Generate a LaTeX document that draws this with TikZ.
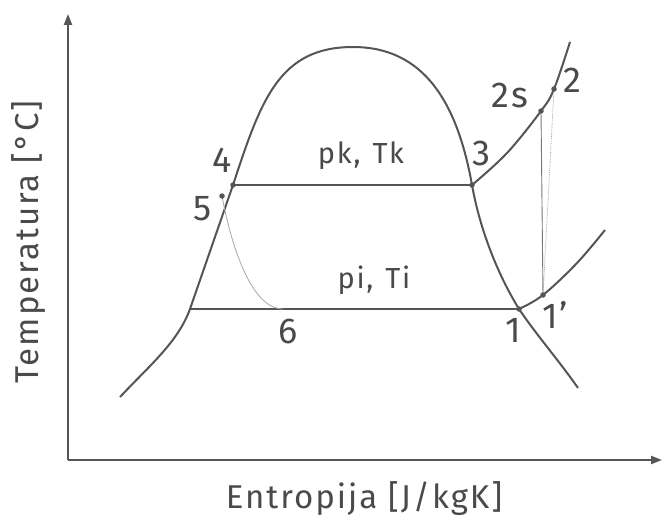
\documentclass[tikz,border=0pt]{standalone}
\usepackage{fontspec}
\setmainfont[LetterSpace=6]{Fira Sans}
\usetikzlibrary{arrows.meta}
\definecolor{ln}{HTML}{555555}
\definecolor{tx}{HTML}{4A4A4A}
\begin{document}
\begin{tikzpicture}[x=1pt,y=-1pt,
  curve/.style={draw=ln,line width=2pt,line join=round},
  thinline/.style={draw=ln!80,line width=0.9pt},
  lightline/.style={draw=gray!70,line width=0.8pt},
  dot/.style={circle,fill=ln,inner sep=0pt,minimum size=5.5pt},
  lbl/.style={text=tx,font=\fontsize{36}{40}\selectfont,inner sep=0pt,anchor=base},
  txt/.style={text=tx,font=\fontsize{29}{34}\selectfont,inner sep=0pt,anchor=base},
  axlbl/.style={text=tx,font=\fontsize{33}{38}\selectfont,inner sep=0pt,anchor=base},
  axis/.style={draw=ln,line width=2pt,-{Triangle[length=11pt,width=8pt]}}]
\useasboundingbox (0,0) rectangle (662,519);
% axes
\coordinate (O) at (68,460);
\coordinate (Ytop) at (68,14);
\coordinate (Xend) at (662,460);
\draw[axis] (O) -- (Ytop);
\draw[axis] (O) -- (Xend);
% state points
\coordinate (p4) at (233,185);
\coordinate (p3) at (472,185);
\coordinate (p1) at (519,309);
\coordinate (p6l) at (190,309);
\coordinate (p6) at (283,309);
\coordinate (p5) at (222,196);
\coordinate (p2s) at (541,111);
\coordinate (p2) at (554,89);
\coordinate (p1p) at (543,295);
\coordinate (top) at (353,47);
% saturation dome
\draw[curve] (120,397) .. controls (150,365) and (178,342) .. (p6l)
  -- (p4) .. controls (261,100) and (279,47) .. (top)
  .. controls (423,47) and (457,101) .. (p3)
  .. controls (480,230) and (498,275) .. (p1)
  .. controls (535,333) and (560,362) .. (578,388);
% isobars
\draw[curve] plot[smooth,tension=0.6] coordinates {(p3) (507,153) (p2s) (p2) (570,42)};
\draw[curve] plot[smooth,tension=0.6] coordinates {(p1) (p1p) (577,263) (605,230)};
\draw[curve] (p4) -- (p3);
\draw[curve] (p6l) -- (p1);
% process lines
\draw[thinline] (p1p) -- (p2s);
\draw[lightline,densely dotted] (p1p) -- (p2);
\draw[lightline] (p5) .. controls (230,240) and (250,309) .. (p6);
% dots
\node[dot] (d4) at (p4) {};
\node[dot] (d3) at (p3) {};
\node[dot] (d5) at (p5) {};
\node[dot] (d1) at (p1) {};
\node[dot] (d1p) at (p1p) {};
\node[dot] (d2s) at (p2s) {};
\node[dot] (d2) at (p2) {};
% labels
\node[lbl] (l4) at (222,172) {4};
\node[lbl] (l3) at (481,165) {3};
\node[lbl] (l5) at (203,220) {5};
\node[lbl] (l6) at (288,343) {6};
\node[lbl] (l1) at (513,342) {1};
\node[lbl] (l1p) at (555,328) {1’};
\node[lbl] (l2s) at (510,107) {2s};
\node[lbl] (l2) at (572,93) {2};
\node[txt] (lpk) at (361,163) {pk,\hspace{12pt}Tk};
\node[txt] (lpi) at (374,288) {pi,\hspace{12pt}Ti};
\node[axlbl] (xl) at (364,508) {Entropija [J/kgK]};
\node[axlbl,rotate=90] (yl) at (38,242) {Temperatura [°C]};
\end{tikzpicture}
\end{document}
